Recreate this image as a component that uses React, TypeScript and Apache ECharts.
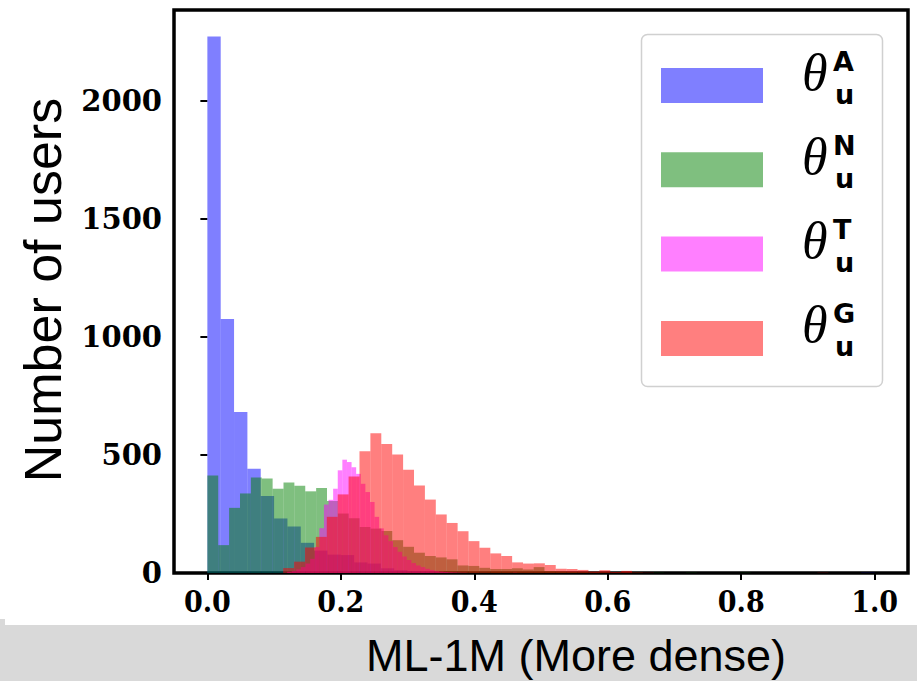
import React, { useEffect, useRef } from 'react';
import * as echarts from 'echarts';

// ---------- data ----------
const X_TICKS = [0, 0.2, 0.4, 0.6, 0.8, 1.0];
const Y_TICKS = [0, 500, 1000, 1500, 2000];

const SERIES_NAMES = ['A', 'N', 'T', 'G'];

// theta_u^A  (blue)
const A_START = 0;
const A_WIDTH = 0.02;
const A_COUNTS = [
  2273, 1076, 682, 442, 326, 231, 197, 128, 95, 78,
  76, 45, 40, 20, 12, 8, 5, 3, 2, 1,
  1, 0, 0, 0, 0, 0, 0, 0, 0, 0,
  0, 0, 0, 0, 0, 0, 0, 0, 0, 0,
  0, 0, 0, 0, 0, 0, 0, 0, 0, 1,
];

// theta_u^N  (green)
const N_START = 0;
const N_WIDTH = 0.0163;
const N_COUNTS = [
  413, 118, 276, 337, 405, 400, 357, 383, 370, 346,
  360, 305, 252, 232, 195, 188, 178, 139, 111, 86,
  72, 66, 58, 32, 30, 22, 17, 17, 20, 15,
  25, 8, 6, 4, 3, 2, 2, 1, 1, 1,
  0, 1, 0, 0, 1, 0, 0, 0, 0, 1,
];

// theta_u^T  (magenta)
const T_START = 0.1195;
const T_WIDTH = 0.0069;
const T_COUNTS = [
  5, 8, 15, 25, 40, 60, 110, 190, 290, 310,
  357, 435, 480, 470, 448, 420, 378, 343, 301, 238,
  189, 160, 135, 110, 90, 70, 55, 42, 32, 25,
  18, 13, 9, 6, 4, 3, 2, 1, 1, 0,
  0, 0, 0, 0, 0, 0, 0, 0, 0, 1,
];

// theta_u^G  (red)
const G_START = 0.1136;
const G_WIDTH = 0.01634;
const G_COUNTS = [
  21, 48, 108, 153, 238, 333, 409, 516, 592, 547,
  502, 437, 371, 311, 248, 212, 177, 135, 107, 83,
  72, 45, 40, 41, 34, 18, 17, 13, 6, 12,
  4, 9, 2, 1, 0, 0, 0, 0, 0, 0,
  0, 0, 0, 0, 0, 0, 0, 0, 0, 1,
];

const COLORS = [
  'rgba(0,0,255,0.5)',
  'rgba(0,128,0,0.5)',
  'rgba(255,0,255,0.5)',
  'rgba(255,0,0,0.5)',
];

function toBins(start: number, width: number, counts: number[]) {
  return counts
    .map((c, i) => [start + i * width, start + (i + 1) * width, c])
    .filter((d) => d[2] > 0);
}

function histSeries(name: string, data: number[][], color: string) {
  return {
    type: 'custom',
    name,
    data,
    encode: { x: [0, 1], y: 2 },
    clip: true,
    renderItem: (params: any, api: any) => {
      const x0 = api.value(0);
      const x1 = api.value(1);
      const h = api.value(2);
      const p0 = api.coord([x0, h]);
      const p1 = api.coord([x1, 0]);
      return {
        type: 'rect',
        shape: { x: p0[0], y: p0[1], width: p1[0] - p0[0], height: p1[1] - p0[1] },
        style: { fill: color },
      };
    },
  };
}

export default function App() {
  const ref = useRef<HTMLDivElement>(null);

  useEffect(() => {
    if (!ref.current) return;
    const chart = echarts.init(ref.current, null, { renderer: 'svg' });

    const legendGraphics: any[] = [
      {
        type: 'rect',
        z: 100,
        shape: { x: 641.5, y: 34.5, width: 241, height: 352, r: 6 },
        style: { fill: 'rgba(255,255,255,0.85)', stroke: '#d0d0d0', lineWidth: 1.5 },
      },
    ];
    SERIES_NAMES.forEach((nm, r) => {
      const dy = r * 84.3;
      legendGraphics.push({
        type: 'rect',
        z: 101,
        shape: { x: 661, y: 68 + dy, width: 102, height: 35 },
        style: { fill: COLORS[r] },
      });
      legendGraphics.push({
        type: 'text',
        z: 101,
        x: 802,
        y: 72 + dy,
        style: {
          text: 'θ',
          fontFamily: 'Liberation Serif, DejaVu Serif, serif',
          fontStyle: 'italic',
          fontSize: 52,
          fill: '#000',
          textAlign: 'left',
          textVerticalAlign: 'middle',
        },
      });
      legendGraphics.push({
        type: 'text',
        z: 101,
        x: 833,
        y: 61 + dy,
        style: {
          text: nm,
          fontFamily: 'DejaVu Sans, sans-serif',
          fontWeight: 'bold',
          fontSize: 27,
          fill: '#000',
          textAlign: 'left',
          textVerticalAlign: 'middle',
        },
      });
      legendGraphics.push({
        type: 'text',
        z: 101,
        x: 835,
        y: 94 + dy,
        style: {
          text: 'u',
          fontFamily: 'DejaVu Sans, sans-serif',
          fontWeight: 'bold',
          fontSize: 27,
          fill: '#000',
          textAlign: 'left',
          textVerticalAlign: 'middle',
        },
      });
    });

    const option: any = {
      animation: false,
      backgroundColor: '#ffffff',
      grid: {
        left: 174,
        top: 10,
        right: 9,
        bottom: 108,
        show: true,
        borderColor: '#000',
        borderWidth: 3.5,
        backgroundColor: 'transparent',
      },
      xAxis: {
        type: 'value',
        min: -0.05,
        max: 1.05,
        axisLine: { show: false },
        splitLine: { show: false },
        axisTick: {
          show: true,
          customValues: X_TICKS,
          length: 7,
          lineStyle: { color: '#000', width: 2 },
        },
        axisLabel: {
          customValues: X_TICKS,
          formatter: (v: number) => v.toFixed(1),
          fontFamily: "'DejaVu Serif Condensed', 'DejaVu Serif', serif",
          fontWeight: 'bold',
          fontSize: 30,
          color: '#000',
          margin: 13,
        },
      },
      yAxis: {
        type: 'value',
        min: 0,
        max: 2385,
        axisLine: { show: false },
        splitLine: { show: false },
        axisTick: {
          show: true,
          customValues: Y_TICKS,
          length: 7,
          lineStyle: { color: '#000', width: 2 },
        },
        axisLabel: {
          customValues: Y_TICKS,
          formatter: (v: number) => String(v),
          fontFamily: "'DejaVu Serif', serif",
          fontWeight: 'bold',
          fontSize: 29,
          color: '#000',
          margin: 12,
        },
      },
      series: [
        histSeries('A', toBins(A_START, A_WIDTH, A_COUNTS), COLORS[0]),
        histSeries('N', toBins(N_START, N_WIDTH, N_COUNTS), COLORS[1]),
        histSeries('T', toBins(T_START, T_WIDTH, T_COUNTS), COLORS[2]),
        histSeries('G', toBins(G_START, G_WIDTH, G_COUNTS), COLORS[3]),
      ],
      graphic: [
        {
          type: 'rect',
          z: 50,
          shape: { x: 0, y: 625, width: 917, height: 56 },
          style: { fill: '#d9d9d9' },
        },
        {
          type: 'rect',
          z: 50,
          shape: { x: 0, y: 619, width: 5, height: 6 },
          style: { fill: '#d9d9d9' },
        },
        {
          type: 'text',
          z: 51,
          x: 576,
          y: 655,
          style: {
            text: 'ML-1M (More dense)',
            fontFamily: 'Liberation Sans, Arial, sans-serif',
            fontSize: 45,
            fill: '#000',
            textAlign: 'center',
            textVerticalAlign: 'middle',
          },
        },
        {
          type: 'text',
          z: 51,
          x: 43,
          y: 290,
          rotation: Math.PI / 2,
          style: {
            text: 'Number of users',
            fontFamily: 'Liberation Sans, Arial, sans-serif',
            fontSize: 52,
            fill: '#000',
            textAlign: 'center',
            textVerticalAlign: 'middle',
          },
        },
        ...legendGraphics,
      ],
    };

    chart.setOption(option);
    return () => chart.dispose();
  }, []);

  return (
    <div
      ref={ref}
      style={{ position: 'fixed', left: 0, top: 0, width: 917, height: 681 }}
    />
  );
}
